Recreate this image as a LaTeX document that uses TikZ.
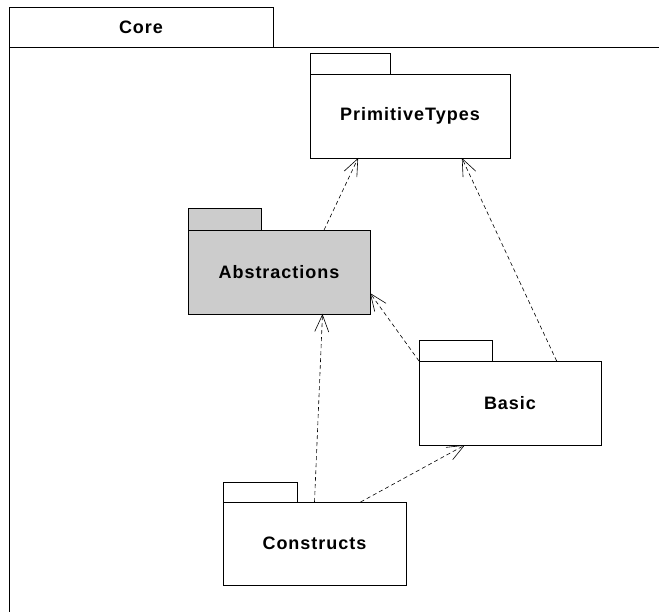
\documentclass[tikz,border=0pt]{standalone}
\usepackage{fontspec}
\setmainfont{Liberation Sans}[LetterSpace=5.5]
\usetikzlibrary{arrows.meta}
\begin{document}
\begin{tikzpicture}[x=1pt,y=-1pt,inner sep=0pt,outer sep=0pt,line width=0.8pt,
pkg/.style={draw,rectangle,minimum width=182pt,minimum height=84pt,fill=white,
  font=\fontsize{18}{20}\selectfont\bfseries},
dep/.style={dashed,dash pattern=on 4pt off 3pt,line width=0.6pt,
  -{Straight Barb[length=17pt,width=14pt]}}]
\useasboundingbox (0,0) rectangle (659,612);
% outer package Core
\draw (9,7) rectangle (273,47);
\draw (141,27) node[font=\fontsize{18}{20}\selectfont\bfseries] (core) {Core};
\draw (9,612) -- (9,47) -- (659,47);
% inner packages
\draw (410,116) node[pkg,minimum width=200pt] (prim) {PrimitiveTypes};
\draw (prim.north west) rectangle ++(80,-21);
\draw (279,272) node[pkg,fill=black!20] (abs) {Abstractions};
\draw[fill=black!20] (abs.north west) rectangle ++(73,-22);
\draw (510,403) node[pkg] (basic) {Basic};
\draw (basic.north west) rectangle ++(73,-21);
\draw (314.5,543.5) node[pkg,minimum width=183pt,minimum height=83pt] (cons) {Constructs};
\draw (cons.north west) rectangle ++(74,-20);
% dependencies
\draw[dep] (abs.43) -- (prim.219);
\draw[dep] (basic.42) -- (prim.-39);
\draw[dep] (basic.north west) -- (abs.-13);
\draw[dep] (cons.north) -- (abs.-44);
\draw[dep] (cons.42) -- (basic.223);
\end{tikzpicture}
\end{document}
